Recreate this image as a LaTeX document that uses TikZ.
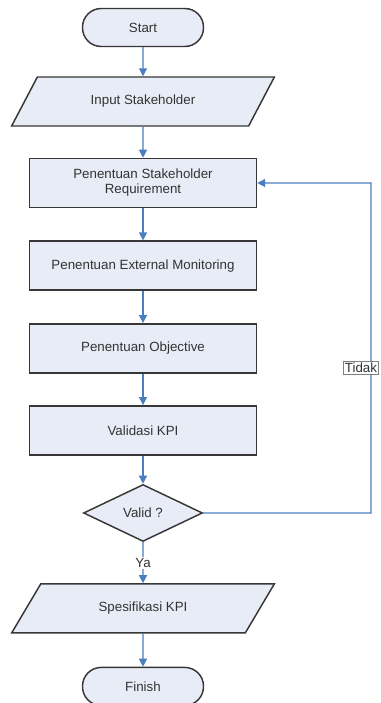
\documentclass[tikz,border=0pt]{standalone}
\usepackage{fontspec}
\setmainfont{Liberation Sans}
\usetikzlibrary{shapes.geometric,arrows.meta}

\definecolor{boxfill}{RGB}{231,236,246}
\definecolor{flowblue}{RGB}{74,126,190}
\definecolor{edgegray}{RGB}{55,55,55}

\tikzset{
  base/.style={draw=edgegray, line width=1.1pt, fill=boxfill, text=black!80,
    font=\fontsize{10}{11.25}\selectfont, align=center, inner sep=2pt},
  term/.style={base, rectangle, rounded corners=14pt, minimum width=90.75pt, minimum height=28.5pt},
  io/.style={base, trapezium, trapezium left angle=53, trapezium right angle=127,
    trapezium stretches=true, minimum width=197.25pt, minimum height=36.75pt},
  proc/.style={base, rectangle, minimum width=170.25pt, minimum height=36.75pt},
  decide/.style={base, diamond, aspect=2, inner sep=0pt, minimum width=89.25pt, minimum height=42.75pt},
  flow/.style={draw=flowblue, line width=0.9pt, -{Triangle[width=6pt,length=6pt]}},
  lbl/.style={fill=white, text=black!80, font=\fontsize{10}{11.25}\selectfont, inner sep=1pt}
}

\begin{document}
\begin{tikzpicture}[x=0.75pt, y=-0.75pt, node distance=62pt]
\useasboundingbox (0,0) rectangle (381,703);
\node [term] (start) at (143,27.5) {Start};
\node [io, below of=start, node distance=55.5pt] (input) {Input Stakeholder};
\node [proc, below of=input, node distance=61.1pt] (req) {Penentuan Stakeholder\\Requirement};
\node [proc, below of=req] (ext) {Penentuan External Monitoring};
\node [proc, below of=ext] (obj) {Penentuan Objective};
\node [proc, below of=obj, node distance=61.5pt] (kpi) {Validasi KPI};
\node [decide, below of=kpi] (valid) {Valid ?};
\node [io, below of=valid, node distance=71.6pt] (spek) {Spesifikasi KPI};
\node [term, below of=spek, node distance=58.5pt] (finish) {Finish};
\coordinate (back) at (371,183);
\draw [flow] (start) -- (input);
\draw [flow] (input) -- (req);
\draw [flow] (req) -- (ext);
\draw [flow] (ext) -- (obj);
\draw [flow] (obj) -- (kpi);
\draw [flow] (kpi) -- (valid);
\draw [flow] (valid) -- node [lbl] {Ya} (spek);
\draw [flow] (valid.east) -- (valid.east -| back) -- node [lbl, draw=gray, line width=0.4pt, pos=0.44, xshift=-7.5pt] {Tidak} (back) -- (req.east);
\draw [flow] (spek) -- (finish);
\end{tikzpicture}
\end{document}
